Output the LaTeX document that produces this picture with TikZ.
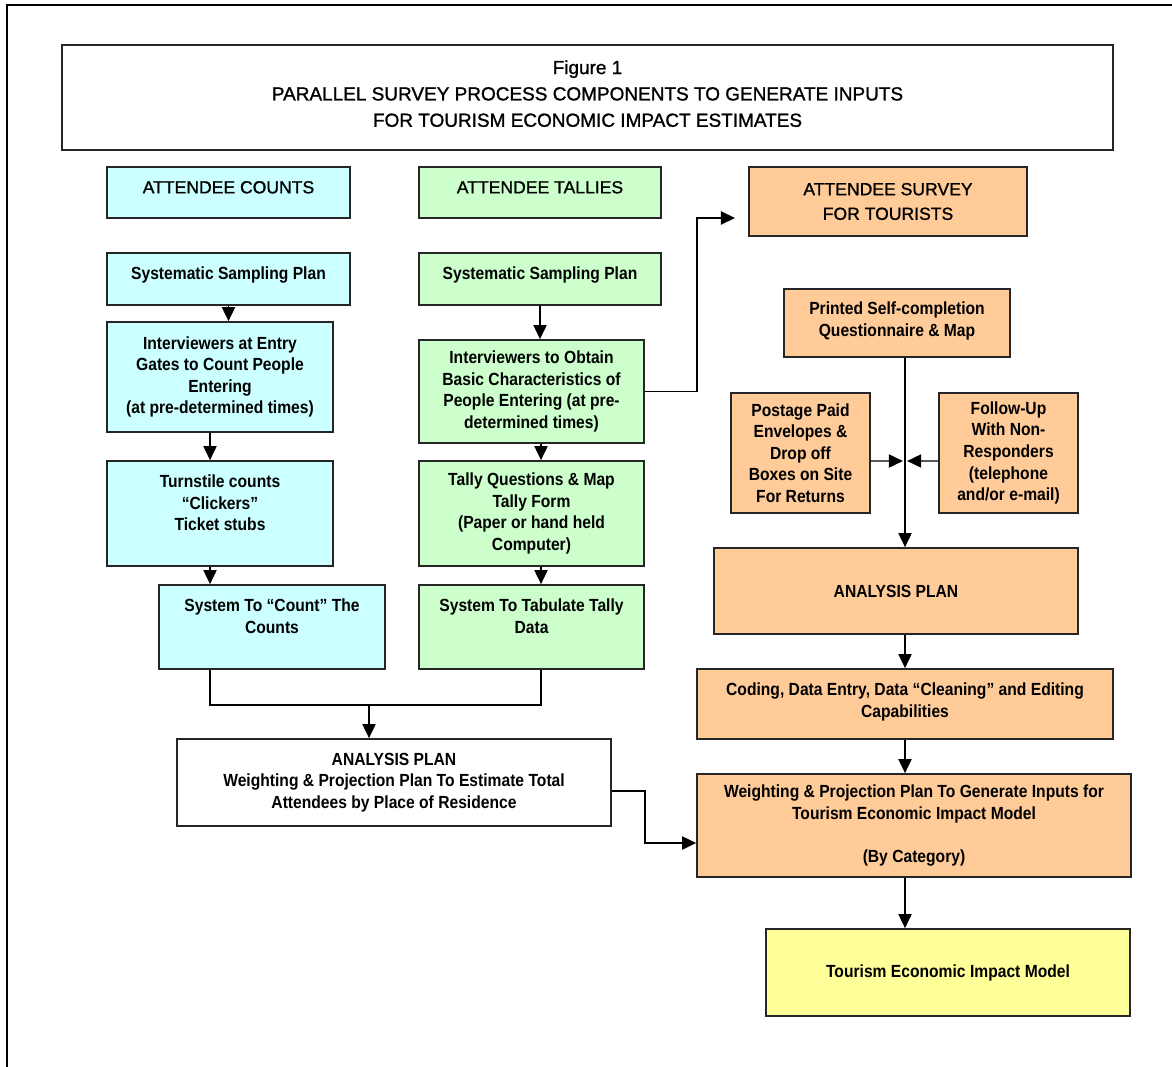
\documentclass[tikz,border=0pt]{standalone}
\usepackage{fontspec}
\setmainfont{Liberation Sans}
\newfontfamily\narrowfont{Liberation Sans}[FakeStretch=0.89]
\newfontfamily\headfont{Liberation Sans}[FakeBold=1.2]
\usetikzlibrary{arrows.meta}

\definecolor{countblue}{HTML}{CCFFFF}
\definecolor{tallygreen}{HTML}{CCFFCC}
\definecolor{surveyorange}{HTML}{FFCC99}
\definecolor{modelyellow}{HTML}{FFFF99}

\tikzset{
  box/.style={draw=black!85, line width=1pt, inner sep=0pt, align=center,
    font=\narrowfont\bfseries\fontsize{10}{12.3}\selectfont},
  headbox/.style={box, font=\headfont\fontsize{10}{14}\selectfont},
  arr/.style={-{Triangle[length=8pt,width=7.5pt]}, line width=0.85pt},
}

\begin{document}
\begin{tikzpicture}[x=0.02cm, y=-0.02cm]
    \useasboundingbox (0,0) rectangle (1172,1067);

    % frame
    \draw[line width=1.2pt] (7,1067) -- (7,5) -- (1172,5);

    % title
    \node[box, font=\headfont\fontsize{10.8}{15}\selectfont, minimum width=21.02cm, minimum height=2.1cm] (title) at (587.5,97.5)
        {Figure 1\\PARALLEL SURVEY PROCESS COMPONENTS TO GENERATE INPUTS\\FOR TOURISM ECONOMIC IMPACT ESTIMATES\\[-10.5pt]~};

    % left column: counts
    \node[headbox, fill=countblue, minimum width=4.86cm, minimum height=1.02cm] (cHead) at (228.5,192.5) {ATTENDEE COUNTS\\[-8pt]~};
    \node[box, fill=countblue, minimum width=4.86cm, minimum height=1.04cm] (cPlan) at (228.5,279) {Systematic Sampling Plan\\[-6pt]~};
    \node[box, fill=countblue, minimum width=4.52cm, minimum height=2.2cm] (cInt) at (220,377)
        {Interviewers at Entry\\Gates to Count People\\Entering\\(at pre-determined times)};
    \node[box, fill=countblue, minimum width=4.52cm, minimum height=2.1cm] (cTurn) at (220,513.5)
        {Turnstile counts\\“Clickers”\\Ticket stubs\\~};
    \node[box, fill=countblue, minimum width=4.52cm, minimum height=1.68cm] (cSys) at (272,627)
        {System To “Count” The\\Counts\\~};

    \draw[arr] (cPlan.south) -- (cPlan.south |- cInt.north);
    \draw[arr] ([xshift=-0.2cm]cInt.south) -- ([xshift=-0.2cm]cInt.south |- cTurn.north);
    \draw[arr] ([xshift=-0.2cm]cTurn.south) -- ([xshift=-0.2cm]cTurn.south |- cSys.north);

    % middle column: tallies
    \node[headbox, fill=tallygreen, minimum width=4.84cm, minimum height=1.02cm] (tHead) at (540,192.5) {ATTENDEE TALLIES\\[-8pt]~};
    \node[box, fill=tallygreen, minimum width=4.84cm, minimum height=1.04cm] (tPlan) at (540,279) {Systematic Sampling Plan\\[-6pt]~};
    \node[box, fill=tallygreen, minimum width=4.5cm, minimum height=2.06cm] (tInt) at (531.5,391.5)
        {Interviewers to Obtain\\Basic Characteristics of\\People Entering (at pre-\\determined times)};
    \node[box, fill=tallygreen, minimum width=4.5cm, minimum height=2.1cm] (tTally) at (531.5,513.5)
        {Tally Questions \& Map\\Tally Form\\(Paper or hand held\\Computer)};
    \node[box, fill=tallygreen, minimum width=4.5cm, minimum height=1.68cm] (tSys) at (531.5,627)
        {System To Tabulate Tally\\Data\\~};

    \draw[arr] (tPlan.south) -- (tPlan.south |- tInt.north);
    \draw[arr] ([xshift=0.19cm]tInt.south) -- ([xshift=0.19cm]tInt.south |- tTally.north);
    \draw[arr] ([xshift=0.19cm]tTally.south) -- ([xshift=0.19cm]tTally.south |- tSys.north);

    % joint analysis plan
    \node[box, fill=white, minimum width=8.68cm, minimum height=1.74cm] (aPlan) at (394,782.5)
        {ANALYSIS PLAN\\Weighting \& Projection Plan To Estimate Total\\Attendees by Place of Residence};
    \coordinate (join) at (369,705);
    \draw[line width=0.85pt] ([xshift=-1.24cm]cSys.south) |- (join) -| ([xshift=0.19cm]tSys.south);
    \draw[arr] (join) -- (join |- aPlan.north);

    % right column: survey
    \node[headbox, fill=surveyorange, minimum width=5.56cm, minimum height=1.38cm] (sHead) at (888,201.5)
        {ATTENDEE SURVEY\\FOR TOURISTS};
    \coordinate (bend) at (697,218);
    \coordinate (sIn) at (735,218);
    \draw[arr] (tInt.east) -| (bend) -- (sIn);

    \node[box, fill=surveyorange, minimum width=4.52cm, minimum height=1.36cm] (sPrint) at (897,323)
        {Printed Self-completion\\Questionnaire \& Map\\[-8pt]~};
    \node[box, fill=surveyorange, minimum width=2.78cm, minimum height=2.4cm] (sPost) at (800.5,453)
        {Postage Paid\\Envelopes \&\\Drop off\\Boxes on Site\\For Returns};
    \node[box, fill=surveyorange, minimum width=2.78cm, minimum height=2.4cm] (sFollow) at (1008.5,453)
        {Follow-Up\\With Non-\\Responders\\(telephone\\and/or e-mail)};
    \node[box, fill=surveyorange, minimum width=7.28cm, minimum height=1.72cm] (sPlan) at (896,591) {ANALYSIS PLAN};
    \node[box, fill=surveyorange, minimum width=8.32cm, minimum height=1.4cm] (sCode) at (905,704)
        {Coding, Data Entry, Data “Cleaning” and Editing\\Capabilities\\[-8pt]~};
    \node[box, fill=surveyorange, minimum width=8.68cm, minimum height=2.06cm] (sWeight) at (914,825.5)
        {Weighting \& Projection Plan To Generate Inputs for\\Tourism Economic Impact Model\\~\\(By Category)};
    \node[box, fill=modelyellow, minimum width=7.28cm, minimum height=1.74cm] (model) at (948,972.5)
        {Tourism Economic Impact Model};

    \coordinate (mid) at (905,461);
    \draw[arr] (mid |- sPrint.south) -- (mid |- sPlan.north);
    \draw[arr, shorten >=1.2pt] ([yshift=-0.16cm]sPost.east) -- (mid);
    \draw[arr, shorten >=1.2pt] ([yshift=-0.16cm]sFollow.west) -- (mid);
    \draw[arr] (mid |- sPlan.south) -- (mid |- sCode.north);
    \draw[arr] (mid |- sCode.south) -- (mid |- sWeight.north);
    \draw[arr] (mid |- sWeight.south) -- (mid |- model.north);

    % counts and tallies feed the weighting plan
    \coordinate (elbow) at (645,843);
    \draw[arr] ([yshift=-0.17cm]aPlan.east) -| (elbow) -- (elbow -| sWeight.west);
\end{tikzpicture}
\end{document}
